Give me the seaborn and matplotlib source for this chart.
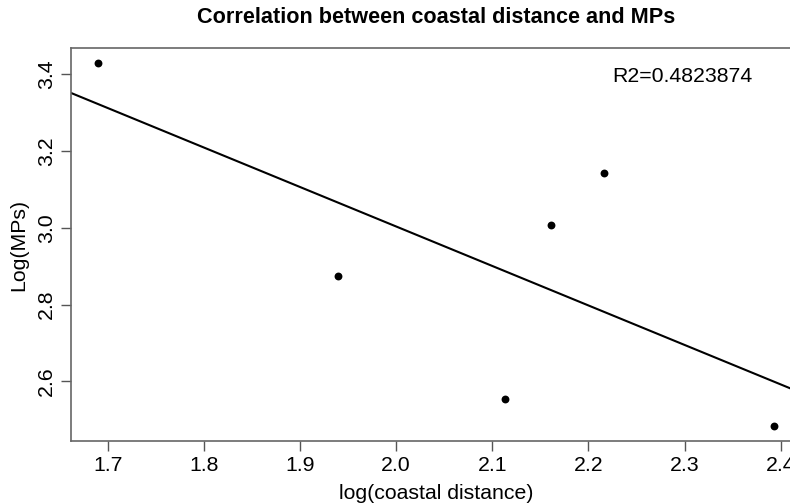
import numpy as np
import pandas as pd
import matplotlib
matplotlib.use("Agg")
import matplotlib.pyplot as plt
import seaborn as sns

log_distance = [1.690, 1.940, 2.113, 2.161, 2.216, 2.393]
log_mps = [3.431, 2.875, 2.553, 3.008, 3.144, 2.482]
r2_label = "R2=0.4823874"
x_ticks = [1.7, 1.8, 1.9, 2.0, 2.1, 2.2, 2.3, 2.4]
y_ticks = [2.6, 2.8, 3.0, 3.2, 3.4]

df = pd.DataFrame({"x": log_distance, "y": log_mps})

sns.set_style("ticks")
plt.rcParams["font.family"] = ["Liberation Sans", "DejaVu Sans"]
plt.rcParams["text.color"] = "black"
plt.rcParams["axes.labelcolor"] = "black"
plt.rcParams["xtick.labelcolor"] = "black"
plt.rcParams["ytick.labelcolor"] = "black"

fig = plt.figure(figsize=(7.9, 5.04), dpi=100)
ax = fig.add_axes([71 / 790, 63 / 504, 730 / 790, 393 / 504])

sns.scatterplot(data=df, x="x", y="y", ax=ax, color="black", s=32,
                edgecolor="black", linewidth=0, zorder=3)

slope, intercept = np.polyfit(df["x"], df["y"], 1)
ax.axline((0, intercept), slope=slope, color="black", lw=1.5, zorder=2)

xr = max(log_distance) - min(log_distance)
yr = max(log_mps) - min(log_mps)
ax.set_xlim(min(log_distance) - 0.04 * xr, max(log_distance) + 0.04 * xr)
ax.set_ylim(min(log_mps) - 0.04 * yr, max(log_mps) + 0.04 * yr)

ax.set_xticks(x_ticks)
ax.set_xticklabels([f"{v:.1f}" for v in x_ticks])
ax.set_yticks(y_ticks)
ax.set_yticklabels([f"{v:.1f}" for v in y_ticks], rotation=90, va="center")

ax.tick_params(axis="both", labelsize=15.3, length=7, width=1, color="#555555",
               direction="out", pad=4, labelcolor="black")
for sp in ax.spines.values():
    sp.set_color("#666666")
    sp.set_linewidth(1.2)

ax.set_xlabel("log(coastal distance)", fontsize=15.3, labelpad=6, color="black")
ax.set_ylabel("Log(MPs)", fontsize=15.3, labelpad=6, color="black")
ax.set_title("Correlation between coastal distance and MPs", fontsize=15.6,
             fontweight="bold", pad=18, color="black")

ax.text(2.225, 3.395, r2_label, fontsize=15.3, ha="left", va="center",
        color="black")

fig.savefig("out.png", dpi=100)
